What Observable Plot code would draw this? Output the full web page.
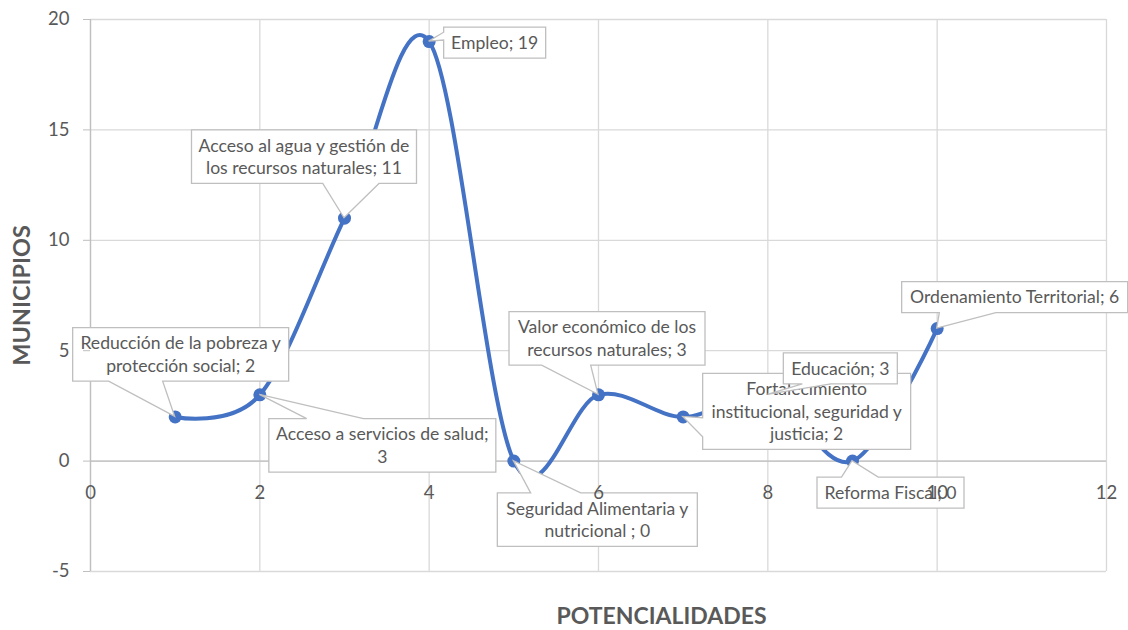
<!DOCTYPE html>
<html><head><meta charset="utf-8">
<script src="https://cdn.jsdelivr.net/npm/d3@7"></script>
<script src="https://cdn.jsdelivr.net/npm/@observablehq/plot@0.6"></script>
<style>
html,body{margin:0;padding:0;background:#fff;}
#chart{width:1128px;height:630px;overflow:hidden;}
</style></head><body><div id="chart"></div>
<script>
// ---- data ----
const potencialidad = [1, 2, 3, 4, 5, 6, 7, 8, 9, 10];
const categories = [
  "Reducción de la pobreza y protección social",
  "Acceso a servicios de salud",
  "Acceso al agua y gestión de los recursos naturales",
  "Empleo",
  "Seguridad Alimentaria y nutricional ",
  "Valor económico de los recursos naturales",
  "Fortalecimiento institucional, seguridad y justicia",
  "Educación",
  "Reforma Fiscal",
  "Ordenamiento Territorial"
];
const municipios = [2, 3, 11, 19, 0, 3, 2, 3, 0, 6];
const xTicks = [0, 2, 4, 6, 8, 10, 12];
const xTickLabels = ["0", "2", "4", "6", "8", "10", "12"];
const yTicks = [-5, 0, 5, 10, 15, 20];
const yTickLabels = ["-5", "0", "5", "10", "15", "20"];
const xAxisCrossing = 0;
const yAxisCrossing = 0;
const xTitle = "POTENCIALIDADES";
const yTitle = "MUNICIPIOS";

// ---- label layout (callout box centre offset from its point, in px; box width; words per line) ----
const labelLayout = [
  {dx: 6,   dy: -62, w: 216, words: [5, 3]},
  {dx: 123, dy: 51,  w: 227, words: [5, 1]},
  {dx: -40, dy: -61, w: 225, words: [6, 4]},
  {dx: 66,  dy: 1.5, w: 102, words: [2]},
  {dx: 84,  dy: 59,  w: 200, words: [3, 3]},
  {dx: 9,   dy: -56, w: 196, words: [4, 3]},
  {dx: 124, dy: -5,  w: 208, words: [1, 3, 2]},
  {dx: 73,  dy: -26, w: 114, words: [2]},
  {dx: 38.5,dy: 32,  w: 147, words: [3]},
  {dx: 78,  dy: -31, w: 226, words: [3]}
];

const data = potencialidad.map((x, i) => ({x, y: municipios[i], cat: categories[i]}));

const FONT = "Lato, 'Open Sans', sans-serif";
const TEXT = "#595959";
const LINE_H = 22.5;

function callouts(index, scales) {
  const g = d3.create("svg:g").attr("font-family", FONT).attr("font-size", 17.6);
  data.forEach((d, i) => {
    const L = labelLayout[i];
    const px = scales.x(d.x), py = scales.y(d.y);
    const words = (d.cat + "; " + d.y).split(" ");
    const lines = [];
    let k = 0;
    for (const n of L.words) { lines.push(words.slice(k, k + n).join(" ")); k += n; }
    const w = L.w, h = lines.length * LINE_H + 8.5;
    const cx = px + L.dx, cy = py + L.dy;
    const l = cx - w / 2, t = cy - h / 2, r = l + w, b = t + h;
    const dxPos = px - cx, dyPos = py - cy;
    const dq = dxPos * h / w;
    const vertical = Math.abs(dyPos) > Math.abs(dq);
    const x1 = l + w * (dxPos > 0 ? 7 : 2) / 12, x2 = l + w * (dxPos > 0 ? 10 : 5) / 12;
    const y1 = t + h * (dyPos > 0 ? 7 : 2) / 12, y2 = t + h * (dyPos > 0 ? 10 : 5) / 12;
    let p = `M${l},${t}`;
    if (vertical && dyPos < 0) p += `L${x1},${t}L${px},${py}L${x2},${t}`;
    p += `L${r},${t}`;
    if (!vertical && dxPos > 0) p += `L${r},${y1}L${px},${py}L${r},${y2}`;
    p += `L${r},${b}`;
    if (vertical && dyPos > 0) p += `L${x2},${b}L${px},${py}L${x1},${b}`;
    p += `L${l},${b}`;
    if (!vertical && dxPos < 0) p += `L${l},${y2}L${px},${py}L${l},${y1}`;
    p += "Z";
    g.append("path").attr("d", p).attr("fill", "#fff").attr("stroke", "#bfbfbf").attr("stroke-width", 1.3);
    lines.forEach((s, j) => {
      g.append("text")
        .attr("x", cx)
        .attr("y", t + 4.25 + LINE_H * (j + 0.5))
        .attr("dy", "0.35em")
        .attr("text-anchor", "middle")
        .attr("fill", TEXT)
        .text(s);
    });
  });
  return g.node();
}

const chart = Plot.plot({
  width: 1128,
  height: 630,
  marginLeft: 90,
  marginRight: 22,
  marginTop: 19,
  marginBottom: 59,
  axis: null,
  x: {domain: [0, 12]},
  y: {domain: [-5, 20]},
  style: {fontFamily: FONT, background: "#fff"},
  marks: [
    Plot.gridX(xTicks, {stroke: "#d9d9d9", strokeOpacity: 1, strokeWidth: 1.3}),
    Plot.gridY(yTicks, {stroke: "#d9d9d9", strokeOpacity: 1, strokeWidth: 1.3}),
    Plot.ruleY([xAxisCrossing], {stroke: "#bfbfbf", strokeWidth: 1.3}),
    Plot.ruleX([yAxisCrossing], {stroke: "#bfbfbf", strokeWidth: 1.3}),
    Plot.line(data, {x: "x", y: "y", curve: "cardinal", stroke: "#4472C4", strokeWidth: 4}),
    Plot.dot(data, {x: "x", y: "y", r: 6.5, fill: "#4472C4", stroke: "none"}),
    callouts,
    Plot.axisY(yTicks, {tickSize: 7, tickPadding: 14, stroke: "#bfbfbf", fill: TEXT, fontSize: 18.5,
      tickFormat: (d) => yTickLabels[yTicks.indexOf(d)], label: null}),
    Plot.text(xTicks, {x: (d) => d, y: () => xAxisCrossing, text: (d, i) => xTickLabels[i],
      dy: 32, fill: TEXT, fontSize: 18.5}),
    Plot.text([yTitle], {frameAnchor: "left", textAnchor: "middle", lineAnchor: "middle", rotate: -90,
      dx: -68, fill: TEXT, fontSize: 23.5, fontWeight: "bold"}),
    Plot.text([xTitle], {frameAnchor: "bottom", textAnchor: "middle", lineAnchor: "middle", dx: 63, dy: 45,
      fill: TEXT, fontSize: 23, fontWeight: "bold"})
  ]
});
document.getElementById("chart").appendChild(chart);
</script>
</body></html>
